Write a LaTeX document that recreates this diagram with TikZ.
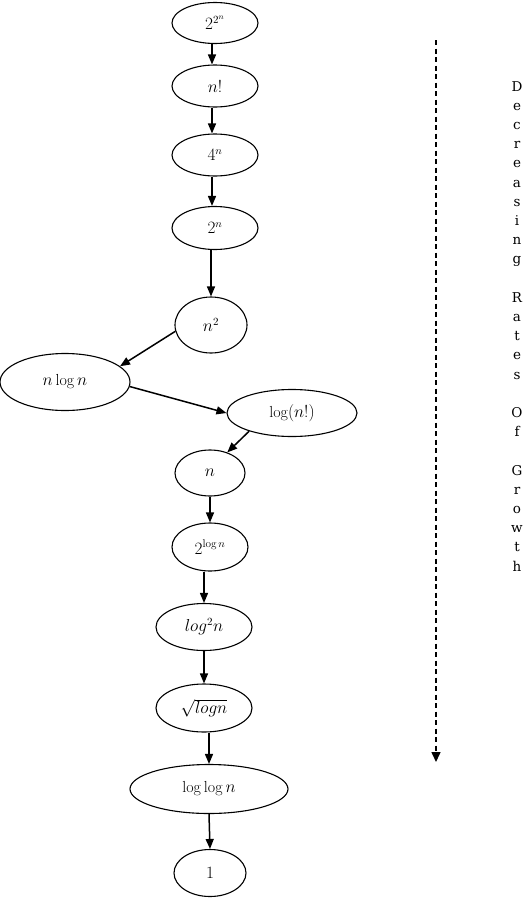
\documentclass[tikz,border=0pt]{standalone}
\usepackage{fontspec}
\newfontfamily\sidefont{DejaVu Serif}
\usetikzlibrary{shapes.geometric,arrows.meta}
\tikzset{
  fn/.style={ellipse, draw, line width=1.1pt, inner sep=0pt, font=\fontsize{16}{19}\selectfont},
  conn/.style={-{Triangle[width=8pt,length=10pt]}, line width=1.5pt},
  dconn/.style={-{Triangle[width=9pt,length=10pt]}, line width=1.5pt, dash pattern=on 5pt off 3.5pt}
}
\begin{document}
\begin{tikzpicture}[x=1pt,y=-1pt]
\path[use as bounding box] (0,0) rectangle (526,900);
\node[fn, minimum width=86pt, minimum height=41pt] (A) at (215,23) {$2^{2^n}$};
\node[fn, minimum width=86pt, minimum height=42pt] (B) at (215,86) {$n!$};
\node[fn, minimum width=86pt, minimum height=42pt] (C) at (215,155) {$4^n$};
\node[fn, minimum width=86pt, minimum height=43pt] (D) at (215,228) {$2^n$};
\node[fn, minimum width=72pt, minimum height=56pt] (E) at (211,325) {$n^2$};
\node[fn, minimum width=130pt, minimum height=57pt] (F) at (65,382) {$n\log n$};
\node[fn, minimum width=130pt, minimum height=47pt] (G) at (292,413) {$\log(n!)$};
\node[fn, minimum width=70pt, minimum height=46pt] (H) at (210,473) {$n$};
\node[fn, minimum width=76pt, minimum height=48pt] (I) at (210,547) {$2^{\log n}$};
\node[fn, minimum width=96pt, minimum height=47pt] (J) at (204,627) {$log^2 n$};
\node[fn, minimum width=96pt, minimum height=48pt] (K) at (204,708) {$\sqrt{logn}$};
\node[fn, minimum width=158pt, minimum height=49pt] (L) at (209,789) {$\log\log n$};
\node[fn, minimum width=72pt, minimum height=47pt] (M) at (210,873) {$1$};

\draw[conn] ([xshift=-3pt]A.south) -- ([xshift=-3pt]B.north);
\draw[conn] ([xshift=-3pt]B.south) -- ([xshift=-3pt]C.north);
\draw[conn] ([xshift=-3pt]C.south) -- ([xshift=-3pt]D.north);
\draw[conn] (D.south -| E.north) -- (E.north);
\draw[conn] (E.-170) -- (F.16);
\draw[conn] (F.-4) -- (G.west);
\draw[conn] (G.-157) -- (H.50);
\draw[conn] (H.south) -- (I.north);
\draw[conn] (I.south -| J.north) -- (J.north);
\draw[conn] (J.south) -- (K.north);
\draw[conn] (K.south -| L.north) -- (L.north);
\draw[conn] (L.south) -- (M.north);

\coordinate (dtop) at (436,40);
\coordinate (dbot) at (436,762);
\draw[dconn] (dtop) -- (dbot);

\node[font=\sidefont\fontsize{13.5}{19.2}\selectfont, align=center, anchor=north, inner sep=0pt] (side) at (517,81)
 {D\\e\\c\\r\\e\\a\\s\\i\\n\\g\\[19.2pt]R\\a\\t\\e\\s\\[19.2pt]O\\f\\[19.2pt]G\\r\\o\\w\\t\\h};
\end{tikzpicture}
\end{document}
